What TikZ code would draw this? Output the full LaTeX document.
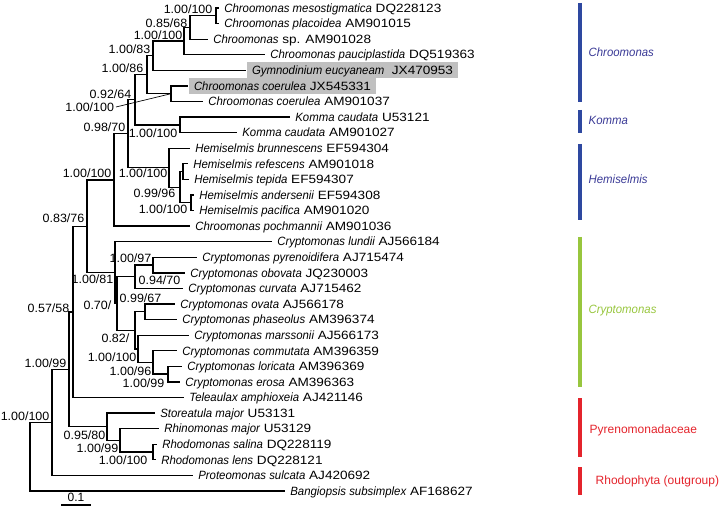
\documentclass[tikz,border=0pt]{standalone}
\usepackage{fontspec}
\setmainfont{Liberation Sans}
\newfontfamily\spfont{Liberation Sans}[FakeStretch=0.95]
\newfontfamily\numfont{Liberation Sans}[FakeStretch=1.13]
\newfontfamily\suppfont{Liberation Sans}[FakeStretch=1.04]
\newcommand{\taxon}[2]{{\spfont\itshape #1} #2}
\usetikzlibrary{calc}
\definecolor{chroobar}{RGB}{46,72,160}
\definecolor{chrootext}{RGB}{58,58,150}
\definecolor{crypto}{RGB}{152,198,62}
\definecolor{pyreno}{RGB}{228,36,44}
\definecolor{hilite}{RGB}{192,192,192}
\tikzset{
  lab/.style={font=\fontsize{9}{10}\selectfont,text height=8.94pt,text depth=2.5pt},
  tip/.style={lab,font=\fontsize{9}{10}\numfont,anchor=west,inner xsep=3.5pt,inner ysep=0.3pt},
  hl/.style={tip,fill=hilite,inner xsep=4pt},
  supp/.style={lab,font=\fontsize{9}{10}\suppfont,anchor=east,inner sep=0pt},
  clade/.style={lab,anchor=west,inner sep=0pt},
  bar/.style={line width=2.4pt},
}

\begin{document}
\begin{tikzpicture}[x=0.75pt,y=-0.75pt,line width=1pt]
\useasboundingbox (0,0) rectangle (724,520);

\coordinate (a1) at (216,15.8);
\coordinate (a2) at (190,27.5);
\coordinate (a3) at (184,41.1);
\coordinate (a4) at (153,55.7);
\coordinate (a5) at (171,93.7);
\coordinate (a6) at (147,74.7);
\coordinate (k1) at (180,124.9);
\coordinate (a7) at (135,99.8);
\coordinate (h1) at (183,171.6);
\coordinate (h2) at (191,202.8);
\coordinate (h3) at (180,187.2);
\coordinate (h4) at (169,167.7);
\coordinate (a8) at (128,133.8);
\coordinate (a9) at (114,180.0);
\coordinate (c1) at (153,265.1);
\coordinate (c2) at (135,276.8);
\coordinate (c3) at (145,311.8);
\coordinate (c4) at (168,374.1);
\coordinate (c5) at (153,362.5);
\coordinate (c6) at (138,348.9);
\coordinate (c7) at (135,330.4);
\coordinate (c8) at (117,303.6);
\coordinate (c9) at (115,272.7);
\coordinate (b1) at (87,226.4);
\coordinate (b2) at (73,312.0);
\coordinate (p1) at (153,452.0);
\coordinate (p2) at (120,440.4);
\coordinate (p3) at (107,426.8);
\coordinate (b3) at (69,369.4);
\coordinate (b4) at (52,422.4);
\coordinate (rt) at (30,456.7);

\node[tip] (mesost) at (219,8.0) {\taxon{Chroomonas mesostigmatica}{DQ228123}};
\node[tip] (placoi) at (219,23.6) {\taxon{Chroomonas placoidea}{AM901015}};
\node[tip] (chsp) at (208,39.2) {\taxon{Chroomonas}{sp. AM901028}};
\node[tip] (paucip) at (265,54.7) {\taxon{Chroomonas pauciplastida}{DQ519363}};
\node[hl] (gymno) at (246,70.3) {\taxon{Gymnodinium eucyaneam}{\ JX470953}};
\node[hl] (coerJX) at (188,85.9) {\taxon{Chroomonas coerulea}{JX545331}};
\node[tip] (coerAM) at (203,101.5) {\taxon{Chroomonas coerulea}{AM901037}};
\node[tip] (kommaU) at (290,117.1) {\taxon{Komma caudata}{U53121}};
\node[tip] (kommaAM) at (237,132.6) {\taxon{Komma caudata}{AM901027}};
\node[tip] (hbrun) at (190,148.2) {\taxon{Hemiselmis brunnescens}{EF594304}};
\node[tip] (hrefe) at (188,163.8) {\taxon{Hemiselmis refescens}{AM901018}};
\node[tip] (htepi) at (189,179.4) {\taxon{Hemiselmis tepida}{EF594307}};
\node[tip] (hande) at (194,195.0) {\taxon{Hemiselmis andersenii}{EF594308}};
\node[tip] (hpaci) at (194,210.5) {\taxon{Hemiselmis pacifica}{AM901020}};
\node[tip] (pochm) at (190,226.1) {\taxon{Chroomonas pochmannii}{AM901036}};
\node[tip] (lundii) at (272,241.7) {\taxon{Cryptomonas lundii}{AJ566184}};
\node[tip] (pyren) at (197,257.3) {\taxon{Cryptomonas pyrenoidifera}{AJ715474}};
\node[tip] (obova) at (185,272.9) {\taxon{Cryptomonas obovata}{JQ230003}};
\node[tip] (curva) at (183,288.4) {\taxon{Cryptomonas curvata}{AJ715462}};
\node[tip] (ovata) at (175,304.0) {\taxon{Cryptomonas ovata}{AJ566178}};
\node[tip] (phase) at (177,319.6) {\taxon{Cryptomonas phaseolus}{AM396374}};
\node[tip] (marss) at (189,335.2) {\taxon{Cryptomonas marssonii}{AJ566173}};
\node[tip] (commu) at (177,350.8) {\taxon{Cryptomonas commutata}{AM396359}};
\node[tip] (loric) at (182,366.3) {\taxon{Cryptomonas loricata}{AM396369}};
\node[tip] (erosa) at (180,381.9) {\taxon{Cryptomonas erosa}{AM396363}};
\node[tip] (telea) at (184,397.5) {\taxon{Teleaulax amphioxeia}{AJ421146}};
\node[tip] (store) at (155,413.1) {\taxon{Storeatula major}{U53131}};
\node[tip] (rhino) at (159,428.7) {\taxon{Rhinomonas major}{U53129}};
\node[tip] (rsali) at (157,444.2) {\taxon{Rhodomonas salina}{DQ228119}};
\node[tip] (rlens) at (156,459.8) {\taxon{Rhodomonas lens}{DQ228121}};
\node[tip] (prote) at (193,475.4) {\taxon{Proteomonas sulcata}{AJ420692}};
\node[tip] (bangi) at (285,491.0) {\taxon{Bangiopsis subsimplex}{AF168627}};

\draw (a1) |- (mesost.west) (a1) |- (placoi.west);
\draw (a2) |- (a1) (a2) |- (chsp.west);
\draw (a3) |- (a2) (a3) |- (paucip.west);
\draw (a4) |- (a3) (a4) |- (gymno.west);
\draw (a5) |- (coerJX.west) (a5) |- (coerAM.west);
\draw (a6) |- (a4) (a6) |- (a5);
\draw (k1) |- (kommaU.west) (k1) |- (kommaAM.west);
\draw (a7) |- (a6) (a7) |- (k1);
\draw (h1) |- (hrefe.west) (h1) |- (htepi.west);
\draw (h2) |- (hande.west) (h2) |- (hpaci.west);
\draw (h3) |- (h1) (h3) |- (h2);
\draw (h4) |- (hbrun.west) (h4) |- (h3);
\draw (a8) |- (a7) (a8) |- (h4);
\draw (a9) |- (a8) (a9) |- (pochm.west);
\draw (c1) |- (pyren.west) (c1) |- (obova.west);
\draw (c2) |- (c1) (c2) |- (curva.west);
\draw (c3) |- (ovata.west) (c3) |- (phase.west);
\draw (c4) |- (loric.west) (c4) |- (erosa.west);
\draw (c5) |- (commu.west) (c5) |- (c4);
\draw (c6) |- (marss.west) (c6) |- (c5);
\draw (c7) |- (c3) (c7) |- (c6);
\draw (c8) |- (c2) (c8) |- (c7);
\draw (c9) |- (lundii.west) (c9) |- (c8);
\draw (b1) |- (a9) (b1) |- (c9);
\draw (b2) |- (b1) (b2) |- (telea.west);
\draw (p1) |- (rsali.west) (p1) |- (rlens.west);
\draw (p2) |- (rhino.west) (p2) |- (p1);
\draw (p3) |- (store.west) (p3) |- (p2);
\draw (b3) |- (b2) (b3) |- (p3);
\draw (b4) |- (b3) (b4) |- (prote.west);
\draw (rt) |- (b4) (rt) |- (bangi.west);

\node[supp] (sa1) at ($(a1)+(-3,-7)$) {1.00/100};
\node[supp] (sa2) at ($(a2)+(-2,-4)$) {0.85/68};
\node[supp] (sa3) at ($(a3)+(-1,-6)$) {1.00/100};
\node[supp] (sa4) at ($(a4)+(-2,-6)$) {1.00/83};
\node[supp] (sa6) at ($(a6)+(-3,-6.5)$) {1.00/86};
\node[supp] (sa7) at ($(a7)+(-3,-6)$) {0.92/64};
\node[supp,inner xsep=1pt] (sa5) at (116,107) {1.00/100};
\draw[line width=0.5pt] (sa5.east) -- (a5);
\node[supp] (sa8) at ($(a8)+(-2,-7)$) {0.98/70};
\node[supp] (sk1) at ($(k1)+(-2,8)$) {1.00/100};
\node[supp] (sa9) at ($(a9)+(-2,-7)$) {1.00/100};
\node[supp] (sh4) at ($(h4)+(-1,6)$) {1.00/100};
\node[supp] (sh3) at ($(h3)+(-4,6)$) {0.99/96};
\node[supp] (sh2) at ($(h2)+(-3,6)$) {1.00/100};
\node[supp] (sb1) at ($(b1)+(-2,-8)$) {0.83/76};
\node[supp] (sc9) at ($(c9)+(-1,7)$) {1.00/81};
\node[supp] (sc1) at ($(c1)+(-1,-7)$) {1.00/97};
\node[supp,anchor=west] (sc2) at ($(c2)+(3,3)$) {0.94/70};
\node[supp] (sc8) at ($(c8)+(-5,2)$) {0.70/};
\node[supp] (sc3) at ($(c3)+(17,-14)$) {0.99/67};
\node[supp] (sc7) at ($(c7)+(-5,7.5)$) {0.82/};
\node[supp] (sc6) at ($(c6)+(-1,8)$) {1.00/100};
\node[supp] (sc5) at ($(c5)+(-1,8.5)$) {1.00/96};
\node[supp] (sc4) at ($(c4)+(-3,9)$) {1.00/99};
\node[supp] (sb2) at ($(b2)+(-3,-4)$) {0.57/58};
\node[supp] (sb3) at ($(b3)+(-2,-6)$) {1.00/99};
\node[supp] (sp3) at ($(p3)+(-1,8)$) {0.95/80};
\node[supp] (sp2) at ($(p2)+(-1,8)$) {1.00/99};
\node[supp] (sp1) at ($(p1)+(-5,8)$) {1.00/100};
\node[supp] (sb4) at ($(b4)+(-2,-6)$) {1.00/100};

\draw[bar,chroobar] (580,3) -- (580,102);
\draw[bar,chroobar] (580,110) -- (580,133);
\draw[bar,chroobar] (580,144) -- (580,220);
\draw[bar,crypto] (580,237) -- (580,387);
\draw[bar,pyreno] (580,398) -- (580,457);
\draw[bar,pyreno] (580,467) -- (580,495);
\node[clade,text=chrootext] (gchroo) at (588,52) {\spfont\itshape Chroomonas};
\node[clade,text=chrootext] (gkomma) at (588,120) {\spfont\itshape Komma};
\node[clade,text=chrootext] (ghemi) at (588,179) {\spfont\itshape Hemiselmis};
\node[clade,text=crypto] (gcrypt) at (588,309) {\spfont\itshape Cryptomonas};
\node[clade,text=pyreno] (gpyren) at (589,429) {Pyrenomonadaceae};
\node[clade,text=pyreno] (grhodo) at (595,480) {Rhodophyta (outgroup)};

\coordinate (scl) at (61,505);
\coordinate (scr) at (91,505);
\draw (scl) -- (scr);
\node[lab,inner sep=0pt] (sclab) at (76,497) {0.1};
\end{tikzpicture}
\end{document}
